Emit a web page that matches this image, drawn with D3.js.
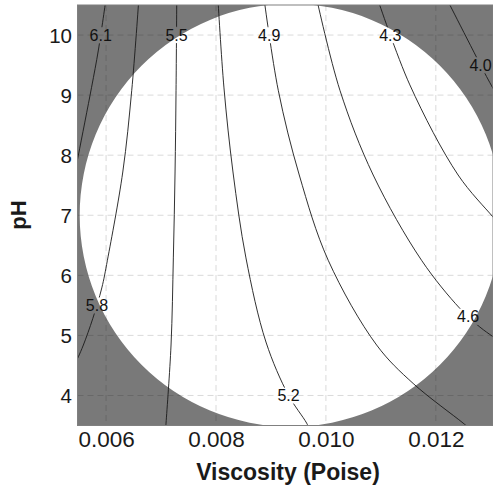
<!DOCTYPE html>
<html>
<head>
<meta charset="utf-8">
<script src="https://cdn.jsdelivr.net/npm/d3@7"></script>
<style>
  html, body { margin: 0; padding: 0; background: #fff; }
  svg { display: block; font-family: "Liberation Sans", Arial, Helvetica, sans-serif; }
</style>
</head>
<body>
<svg id="chart" width="493" height="487"></svg>
<script>
// Axis extents and ticks
const viscosityDomain = [0.00548, 0.01304];
const phDomain = [3.5, 10.5];
const viscosityTicks = [0.006, 0.008, 0.010, 0.012];
const phTicks = [4, 5, 6, 7, 8, 9, 10];

// Experimental region (elliptical design space): centre and half-widths
const designCenter = [0.00936, 7.0];
const designRadius = [0.00384, 3.52];

// Contour levels of the response and their traced iso-lines [viscosity, pH]
const contourLevels = [6.1, 5.8, 5.5, 5.2, 4.9, 4.6, 4.3, 4.0];

const contour61 = [[0.005998, 10.6], [0.00586, 9.75], [0.005736, 9.13], [0.005496, 8.0], [0.00541, 7.59]];
const contour58 = [[0.006596, 10.6], [0.006467, 9.08], [0.006304, 7.72], [0.006024, 6.25], [0.005922, 5.79],
                   [0.005758, 5.28], [0.005587, 4.84], [0.005496, 4.645], [0.00543, 4.52]];
const contour55 = [[0.007286, 10.6], [0.007273, 9.08], [0.007255, 7.72], [0.007224, 6.29], [0.007182, 4.84],
                   [0.007091, 3.54], [0.00708, 3.4]];
const contour52 = [[0.008035, 10.6], [0.008145, 9.12], [0.008309, 7.72], [0.008545, 6.29], [0.008909, 4.89],
                   [0.009315, 4.01], [0.009649, 3.54], [0.00972, 3.4]];
const contour49 = [[0.008875, 10.6], [0.009133, 9.08], [0.009515, 7.67], [0.010042, 6.25], [0.010922, 4.84],
                   [0.011587, 4.20], [0.012496, 3.54], [0.01265, 3.42]];
const contour46 = [[0.009833, 10.6], [0.010255, 9.08], [0.01086, 7.67], [0.01174, 6.25], [0.012436, 5.45],
                   [0.0128, 5.14], [0.013036, 4.98], [0.01318, 4.88]];
const contour43 = [[0.010941, 10.6], [0.011527, 9.17], [0.012405, 7.67], [0.013036, 6.975], [0.01318, 6.82]];
const contour40 = [[0.0122, 10.6], [0.012922, 9.31], [0.013036, 9.12], [0.0132, 8.85]];

const contourLines = [contour61, contour58, contour55, contour52, contour49, contour46, contour43, contour40];

// pH at which each contour carries its value label
const labelPH = [10, 5.5, 10, 4.0, 10, 5.31, 10, 9.5];

// ---------------------------------------------------------------
const W = 493, H = 487;
const plot = { left: 77.5, right: 493, top: 5, bottom: 425.5 };

const x = d3.scaleLinear().domain(viscosityDomain).range([plot.left, plot.right]);
const y = d3.scaleLinear().domain(phDomain).range([plot.bottom, plot.top]);

const svg = d3.select("#chart");
const defs = svg.append("defs");

defs.append("clipPath").attr("id", "plot-clip")
  .append("rect")
  .attr("x", plot.left).attr("y", plot.top)
  .attr("width", plot.right - plot.left).attr("height", plot.bottom - plot.top);

// Plot background
svg.append("rect")
  .attr("x", plot.left).attr("y", plot.top)
  .attr("width", plot.right - plot.left).attr("height", plot.bottom - plot.top)
  .attr("fill", "#fff");

// Dashed grid
const grid = svg.append("g").attr("clip-path", "url(#plot-clip)")
  .attr("stroke", "#dadada").attr("stroke-width", 1).attr("stroke-dasharray", "6,4");
grid.selectAll("line.vx").data(viscosityTicks).join("line")
  .attr("x1", d => x(d)).attr("x2", d => x(d))
  .attr("y1", plot.top).attr("y2", plot.bottom);
grid.selectAll("line.hy").data(phTicks).join("line")
  .attr("x1", plot.left).attr("x2", plot.right)
  .attr("y1", d => y(d)).attr("y2", d => y(d));

// Shaded area outside the design region
const ecx = x(designCenter[0]), ecy = y(designCenter[1]);
const erx = x(designCenter[0] + designRadius[0]) - ecx;
const ery = ecy - y(designCenter[1] + designRadius[1]);
const outside =
  `M${plot.left},${plot.top}H${plot.right}V${plot.bottom}H${plot.left}Z` +
  `M${ecx - erx},${ecy}a${erx},${ery} 0 1,0 ${2 * erx},0a${erx},${ery} 0 1,0 ${-2 * erx},0Z`;
svg.append("path")
  .attr("clip-path", "url(#plot-clip)")
  .attr("d", outside)
  .attr("fill", "#000")
  .attr("fill-opacity", 0.525)
  .attr("fill-rule", "evenodd");

// Contour lines
const lineGen = d3.line()
  .x(d => x(d[0])).y(d => y(d[1]))
  .curve(d3.curveCatmullRom.alpha(0.5));

const mask = defs.append("mask").attr("id", "label-gaps")
  .attr("maskUnits", "userSpaceOnUse")
  .attr("x", 0).attr("y", 0).attr("width", W).attr("height", H);
mask.append("rect").attr("x", 0).attr("y", 0).attr("width", W).attr("height", H).attr("fill", "#fff");

const contourGroup = svg.append("g").attr("clip-path", "url(#plot-clip)")
  .append("g").attr("mask", "url(#label-gaps)");

const paths = contourGroup.selectAll("path").data(contourLines).join("path")
  .attr("d", lineGen)
  .attr("fill", "none")
  .attr("stroke", "#1a1a1a")
  .attr("stroke-width", 0.9);

// Contour value labels, placed where each line crosses its label pH
function pointAtY(node, ty) {
  const len = node.getTotalLength();
  let best = null, bd = Infinity;
  for (let s = 0; s <= len; s += 0.25) {
    const p = node.getPointAtLength(s);
    const d = Math.abs(p.y - ty);
    if (d < bd) { bd = d; best = p; }
  }
  return best;
}

const labelGroup = svg.append("g");
paths.each(function (d, i) {
  const p = pointAtY(this, y(labelPH[i]));
  const t = labelGroup.append("text")
    .attr("x", p.x).attr("y", p.y + 5.6)
    .attr("text-anchor", "middle")
    .attr("font-size", 16)
    .attr("fill", "#111")
    .text(contourLevels[i].toFixed(1));
  const bb = t.node().getBBox();
  mask.append("rect")
    .attr("x", bb.x - 1.5).attr("y", bb.y + 0.5)
    .attr("width", bb.width + 3).attr("height", bb.height - 1)
    .attr("fill", "#000");
});

// Plot frame
svg.append("rect")
  .attr("x", plot.left).attr("y", plot.top)
  .attr("width", plot.right - plot.left).attr("height", plot.bottom - plot.top)
  .attr("fill", "none").attr("stroke", "#808080").attr("stroke-width", 1);

// Axes
const xAxisG = svg.append("g").attr("transform", "translate(0,446.7)")
  .call(d3.axisBottom(x).tickValues(viscosityTicks).tickFormat(d3.format(".3f")).tickSize(0).tickPadding(0));
xAxisG.select(".domain").remove();
xAxisG.selectAll("text")
  .attr("y", 0).attr("dy", null)
  .attr("font-size", 22.5)
  .attr("font-family", "Liberation Sans, Arial, sans-serif")
  .attr("fill", "#1a1a1a");

const yAxisG = svg.append("g").attr("transform", "translate(72,0)")
  .call(d3.axisLeft(y).tickValues(phTicks).tickFormat(d3.format("d")).tickSize(0).tickPadding(0));
yAxisG.select(".domain").remove();
yAxisG.selectAll("text")
  .attr("x", 0).attr("dy", "0.35em")
  .attr("font-size", 20.5)
  .attr("font-family", "Liberation Sans, Arial, sans-serif")
  .attr("fill", "#1a1a1a");

// Axis titles
svg.append("text")
  .attr("x", 288).attr("y", 480)
  .attr("text-anchor", "middle")
  .attr("font-size", 23).attr("font-weight", "bold").attr("fill", "#1a1a1a")
  .text("Viscosity (Poise)");

svg.append("text")
  .attr("transform", "translate(26,215) rotate(-90)")
  .attr("text-anchor", "middle")
  .attr("font-size", 22).attr("font-weight", "bold").attr("fill", "#1a1a1a")
  .text("pH");
</script>
</body>
</html>
